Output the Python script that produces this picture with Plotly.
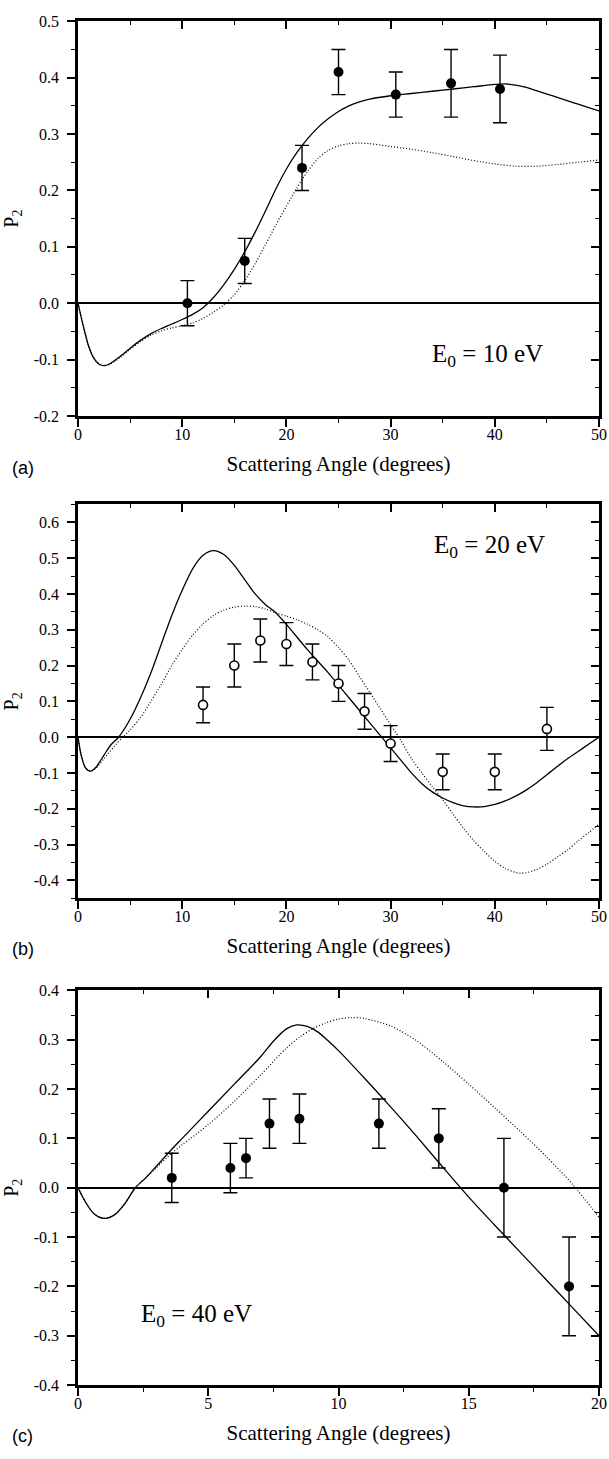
import plotly.graph_objects as go

# ---------------- Panel (a): E0 = 10 eV ----------------
a_exp_x = [10.5, 16.0, 21.5, 25.0, 30.5, 35.8, 40.5]
a_exp_y = [0.0, 0.075, 0.24, 0.41, 0.37, 0.39, 0.38]
a_exp_err = [0.04, 0.04, 0.04, 0.04, 0.04, 0.06, 0.06]

a_solid_x = [0, 0.5, 1, 1.5, 2, 2.5, 3, 4, 5, 6, 7, 8, 9, 10, 11, 12, 13, 14, 15, 16, 17, 18, 19,
             20, 21, 22, 23, 24, 25, 26, 27, 28, 30, 32, 34, 36, 38, 40, 41, 42, 43, 44, 45, 46, 47,
             48, 49, 50]
a_solid_y = [0, -0.04, -0.075, -0.097, -0.108, -0.111, -0.108, -0.095, -0.08, -0.066, -0.054, -0.045,
             -0.037, -0.029, -0.02, -0.008, 0.01, 0.033, 0.06, 0.091, 0.126, 0.164, 0.203,
             0.238, 0.267, 0.291, 0.311, 0.327, 0.34, 0.35, 0.357, 0.362, 0.368, 0.372, 0.376, 0.38,
             0.384, 0.388, 0.389, 0.387, 0.383, 0.377, 0.371, 0.365, 0.359, 0.353, 0.347, 0.341]

a_dot_x = [0, 0.5, 1, 1.5, 2, 2.5, 3, 4, 5, 6, 7, 8, 9, 10, 11, 12, 13, 14, 15, 16, 17, 18, 19, 20, 21,
           22, 23, 24, 25, 26, 27, 28, 30, 32, 34, 36, 38, 40, 42, 44, 46, 48, 50]
a_dot_y = [0, -0.04, -0.075, -0.097, -0.108, -0.111, -0.109, -0.097, -0.082, -0.068, -0.057, -0.049,
           -0.044, -0.04, -0.035, -0.027, -0.016, -0.003, 0.015, 0.04, 0.07, 0.104, 0.139, 0.172, 0.204,
           0.233, 0.256, 0.271, 0.279, 0.283, 0.284, 0.283, 0.278, 0.273, 0.267, 0.26, 0.253, 0.247,
           0.243, 0.243, 0.246, 0.25, 0.254]

# ---------------- Panel (b): E0 = 20 eV ----------------
b_exp_x = [12.0, 15.0, 17.5, 20.0, 22.5, 25.0, 27.5, 30.0, 35.0, 40.0, 45.0]
b_exp_y = [0.09, 0.20, 0.27, 0.26, 0.21, 0.15, 0.072, -0.018, -0.097, -0.097, 0.023]
b_exp_err = [0.05, 0.06, 0.06, 0.06, 0.05, 0.05, 0.05, 0.05, 0.05, 0.05, 0.06]

b_solid_x = [0, 0.3, 0.7, 1.2, 1.7, 2.5, 3.2, 3.9, 5, 6, 7, 8, 9, 10, 11, 12, 13, 14, 15, 16, 17, 18,
             19, 20, 22, 24, 26, 28, 29, 30, 31, 32, 33, 34, 35, 36, 37, 38, 39, 40, 41, 42, 43, 44,
             45, 46, 47, 48, 49, 50]
b_solid_y = [0, -0.05, -0.085, -0.095, -0.085, -0.05, -0.02, 0.0, 0.05, 0.11, 0.18, 0.26, 0.34, 0.41,
             0.47, 0.508, 0.521, 0.51, 0.48, 0.44, 0.40, 0.37, 0.347, 0.315, 0.245, 0.18, 0.11, 0.04,
             0.005, -0.03, -0.065, -0.1, -0.13, -0.153, -0.17, -0.183, -0.192, -0.195, -0.194, -0.188,
             -0.178, -0.165, -0.148, -0.128, -0.105, -0.082, -0.06, -0.04, -0.02, 0.0]

b_dot_x = [0, 0.3, 0.7, 1.2, 1.7, 2.5, 3.5, 4.3, 5, 6, 7, 8, 9, 10, 11, 12, 13, 14, 15, 16, 17, 18, 19,
           20, 21, 22, 23, 24, 25, 26, 27, 28, 29, 30, 31, 32, 33, 34, 35, 36, 37, 38, 39, 40, 41, 42,
           42.5, 43, 44, 45, 46, 47, 48, 49, 50]
b_dot_y = [0, -0.05, -0.085, -0.095, -0.087, -0.06, -0.025, 0.0, 0.02, 0.055, 0.1, 0.148, 0.2, 0.245,
           0.285, 0.316, 0.34, 0.355, 0.363, 0.366, 0.365, 0.358, 0.347, 0.338, 0.328, 0.316, 0.3,
           0.28, 0.25, 0.215, 0.17, 0.125, 0.08, 0.035, -0.01, -0.06, -0.1, -0.138, -0.175, -0.215,
           -0.255, -0.29, -0.32, -0.347, -0.367, -0.378, -0.38, -0.379, -0.37, -0.355, -0.335, -0.315,
           -0.29, -0.267, -0.243]

# ---------------- Panel (c): E0 = 40 eV ----------------
c_exp_x = [3.6, 5.85, 6.45, 7.35, 8.5, 11.55, 13.85, 16.35, 18.85]
c_exp_y = [0.02, 0.04, 0.06, 0.13, 0.14, 0.13, 0.10, 0.0, -0.2]
c_exp_err = [0.05, 0.05, 0.04, 0.05, 0.05, 0.05, 0.06, 0.10, 0.10]

c_solid_x = [0, 0.3, 0.6, 1.0, 1.4, 1.8, 2.2, 2.6, 3, 3.6, 4, 5, 6, 7, 7.5, 8, 8.4, 8.8, 9.2, 9.6, 10,
             11, 12, 13, 14, 15, 16, 17, 18, 19, 20]
c_solid_y = [0, -0.03, -0.052, -0.062, -0.055, -0.032, 0.0, 0.02, 0.043, 0.078, 0.1, 0.155, 0.21,
             0.265, 0.297, 0.322, 0.33, 0.327, 0.316, 0.298, 0.278, 0.222, 0.164, 0.104, 0.042,
             -0.019, -0.076, -0.132, -0.188, -0.244, -0.3]

c_dot_x = [0, 0.3, 0.6, 1.0, 1.4, 1.8, 2.2, 2.6, 3, 3.6, 4, 5, 6, 7, 8, 8.5, 9, 9.5, 10, 10.5, 11, 12,
           13, 14, 15, 16, 17, 18, 19, 20]
c_dot_y = [0, -0.03, -0.052, -0.062, -0.055, -0.032, 0.0, 0.02, 0.04, 0.07, 0.087, 0.128, 0.175,
           0.228, 0.283, 0.305, 0.322, 0.334, 0.342, 0.345, 0.343, 0.328, 0.298, 0.256, 0.21, 0.162,
           0.113, 0.062, 0.006, -0.06]

# ---------------- axis ticks ----------------
a_xticks = [0, 10, 20, 30, 40, 50]
a_yticks = [-0.2, -0.1, 0.0, 0.1, 0.2, 0.3, 0.4, 0.5]
b_xticks = [0, 10, 20, 30, 40, 50]
b_yticks = [-0.4, -0.3, -0.2, -0.1, 0.0, 0.1, 0.2, 0.3, 0.4, 0.5, 0.6]
c_xticks = [0, 5, 10, 15, 20]
c_yticks = [-0.4, -0.3, -0.2, -0.1, 0.0, 0.1, 0.2, 0.3, 0.4]

energy_labels = ["E<sub>0</sub> = 10 eV", "E<sub>0</sub> = 20 eV", "E<sub>0</sub> = 40 eV"]
panel_labels = ["(a)", "(b)", "(c)"]
x_title = "Scattering Angle (degrees)"
y_title = "P<sub>2</sub>"

# ---------------- figure ----------------
W, H = 609, 1459
SERIF = "Liberation Serif"
SANS = "Liberation Sans"


def fy(px):
    return 1 - px / H


panels = [
    dict(n="", xs=a_exp_x, ys=a_exp_y, es=a_exp_err, sx=a_solid_x, sy=a_solid_y, dx=a_dot_x,
         dy=a_dot_y, xr=[0, 50], yr=[-0.2, 0.5], xt=a_xticks, yt=a_yticks, xminor=5,
         dom=[fy(412.7), fy(13.5)], open=False, lab=(430, 352), tpx=465),
    dict(n="2", xs=b_exp_x, ys=b_exp_y, es=b_exp_err, sx=b_solid_x, sy=b_solid_y, dx=b_dot_x,
         dy=b_dot_y, xr=[0, 50], yr=[-0.45, 0.65], xt=b_xticks, yt=b_yticks, xminor=5,
         dom=[fy(900.7), fy(502.3)], open=True, lab=(432, 545), tpx=952),
    dict(n="3", xs=c_exp_x, ys=c_exp_y, es=c_exp_err, sx=c_solid_x, sy=c_solid_y, dx=c_dot_x,
         dy=c_dot_y, xr=[0, 20], yr=[-0.4, 0.4], xt=c_xticks, yt=c_yticks, xminor=2.5,
         dom=[fy(1393.3), fy(994)], open=False, lab=(139, 1323), tpx=1445),
]

fig = go.Figure()
layout = dict(width=W, height=H, margin=dict(l=78, r=10, t=0, b=0), showlegend=False,
              plot_bgcolor="white", paper_bgcolor="white",
              font=dict(family=SERIF, color="black", size=16))
annotations = []


def fmt(v):
    return f"{v:.1f}"


for i, p in enumerate(panels):
    n = p["n"]
    xa, ya = "x" + n, "y" + n
    xt_name, yr_name = "x" + str(4 + i), "y" + str(4 + i)
    # theory curves
    fig.add_trace(go.Scatter(x=p["dx"], y=p["dy"], mode="lines", xaxis=xa, yaxis=ya,
                             line=dict(color="black", width=1.2, dash="1px,2px", shape="spline",
                                       smoothing=0.8),
                             hoverinfo="skip"))
    fig.add_trace(go.Scatter(x=p["sx"], y=p["sy"], mode="lines", xaxis=xa, yaxis=ya,
                             line=dict(color="black", width=1.3, shape="spline", smoothing=0.8),
                             hoverinfo="skip"))
    # experiment
    marker = dict(size=10, color="black", symbol="circle")
    if p["open"]:
        marker = dict(size=9, color="white", symbol="circle", line=dict(color="black", width=1.6))
    fig.add_trace(go.Scatter(x=p["xs"], y=p["ys"], mode="markers", xaxis=xa, yaxis=ya,
                             marker=marker,
                             error_y=dict(type="data", array=p["es"], visible=True, color="black",
                                          thickness=1.4, width=7)))
    # dummy traces to anchor the top/right (inside-tick) axes
    fig.add_trace(go.Scatter(x=[None], y=[None], xaxis=xt_name, yaxis=ya, showlegend=False,
                             hoverinfo="skip"))
    fig.add_trace(go.Scatter(x=[None], y=[None], xaxis=xa, yaxis=yr_name, showlegend=False,
                             hoverinfo="skip"))

    xkey = "xaxis" + n
    ykey = "yaxis" + n
    layout[xkey] = dict(domain=[0, 1], anchor=ya, range=p["xr"], tickvals=p["xt"],
                        ticktext=[str(v) for v in p["xt"]], ticks="outside", ticklen=8,
                        tickwidth=1.6, tickcolor="black", ticklabelstandoff=-6,
                        minor=dict(ticks="outside", ticklen=4, tickwidth=1.4, tickcolor="black",
                                   dtick=p["xminor"], tick0=0),
                        showline=True, linewidth=2.5, linecolor="black", mirror=False,
                        showgrid=False, zeroline=False, tickfont=dict(size=16, family=SERIF),
                        title=dict(text=x_title, font=dict(size=21, family=SERIF), standoff=15))
    layout[ykey] = dict(domain=p["dom"], anchor=xa, range=p["yr"], tickvals=p["yt"],
                        ticktext=[fmt(v) for v in p["yt"]], ticks="outside", ticklen=8,
                        tickwidth=1.6, tickcolor="black", ticklabelstandoff=5,
                        minor=dict(ticks="outside", ticklen=4, tickwidth=1.4, tickcolor="black",
                                   dtick=0.05, tick0=0),
                        showline=True, linewidth=2.5, linecolor="black", mirror=False,
                        showgrid=False, zeroline=True, zerolinecolor="black", zerolinewidth=2,
                        tickfont=dict(size=16, family=SERIF),
                        title=dict(text=y_title, font=dict(size=20, family=SERIF), standoff=12))
    # top and right axes with inside ticks
    layout["xaxis" + str(4 + i)] = dict(overlaying=xa, anchor=ya, side="top", range=p["xr"],
                                        tickvals=p["xt"], ticks="inside", ticklen=8, tickwidth=1.6,
                                        tickcolor="black", showticklabels=False,
                                        minor=dict(ticks="inside", ticklen=4, tickwidth=1.4,
                                                   tickcolor="black", dtick=p["xminor"], tick0=0),
                                        showline=True, linewidth=2.5, linecolor="black",
                                        showgrid=False, zeroline=False)
    layout["yaxis" + str(4 + i)] = dict(overlaying=ya, anchor=xa, side="right", range=p["yr"],
                                        tickvals=p["yt"], ticks="inside", ticklen=8, tickwidth=1.6,
                                        tickcolor="black", showticklabels=False,
                                        minor=dict(ticks="inside", ticklen=4, tickwidth=1.4,
                                                   tickcolor="black", dtick=0.05, tick0=0),
                                        showline=True, linewidth=2.5, linecolor="black",
                                        showgrid=False, zeroline=False)
    # energy label
    lx, ly = p["lab"]
    annotations.append(dict(text=energy_labels[i], xref="paper", yref="paper",
                            x=(lx - 78) / (W - 88), y=fy(ly), xanchor="left", yanchor="middle",
                            showarrow=False, font=dict(size=25, family=SERIF)))
    # panel label
    annotations.append(dict(text=panel_labels[i], xref="paper", yref="paper",
                            x=(10 - 78) / (W - 88), y=fy(p["tpx"]), xanchor="left",
                            yanchor="middle", showarrow=False, font=dict(size=18, family=SANS)))

layout["annotations"] = annotations
fig.update_layout(**layout)

fig.write_html("out.html", config={"displayModeBar": False},
               post_script="document.body.style.margin='0';")
